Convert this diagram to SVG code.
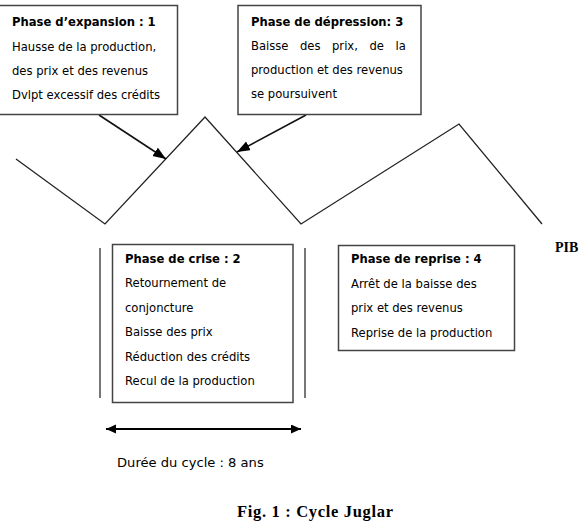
<svg xmlns="http://www.w3.org/2000/svg" width="588" height="522" viewBox="0 0 588 522">
<style>
.box{fill:#fff;stroke:#444;stroke-width:1.5}
.t{font-family:"DejaVu Sans",Verdana,sans-serif;font-size:11.6px;fill:#000}
.b{font-weight:bold}
.s{font-family:"Liberation Serif","Times New Roman",serif;font-weight:bold;fill:#000}
.ln{fill:none;stroke:#222;stroke-width:1.3}
.ar{stroke:#111;stroke-width:1.6;fill:none}
.vl{stroke:#555;stroke-width:1.6}
</style>
<defs>
<marker id="ah" markerUnits="userSpaceOnUse" markerWidth="14" markerHeight="12" refX="13" refY="5" orient="auto">
<path d="M0,0 L13,5 L0,10 z" fill="#000"/>
</marker>
<marker id="dh" markerUnits="userSpaceOnUse" markerWidth="12" markerHeight="10" refX="10" refY="4.5" orient="auto-start-reverse">
<path d="M0,0 L10,4.5 L0,9 z" fill="#000"/>
</marker>
</defs>
<g id="connectors">
<polyline class="ln" points="16,159 105,224 205,117 301,224 459,124 542,224"/>
<line class="ar" x1="99" y1="115" x2="166" y2="159" marker-end="url(#ah)"/>
<line class="ar" x1="306" y1="115" x2="237" y2="152" marker-end="url(#ah)"/>
<line class="vl" x1="100" y1="248" x2="100" y2="398"/>
<line class="vl" x1="305" y1="248" x2="305" y2="398"/>
<line x1="106" y1="429" x2="301" y2="429" stroke="#000" stroke-width="2" marker-start="url(#dh)" marker-end="url(#dh)"/>
</g>
<g id="phase1">
<rect class="box" x="-2" y="5.5" width="179.5" height="109"/>
<text class="t b" x="12" y="26">Phase d’expansion : 1</text>
<text class="t" x="12" y="51">Hausse de la production,</text>
<text class="t" x="12" y="75">des prix et des revenus</text>
<text class="t" x="12" y="99">Dvlpt excessif des crédits</text>
</g>
<g id="phase3">
<rect class="box" x="238" y="5.5" width="183" height="109"/>
<text class="t b" x="251" y="26">Phase de dépression: 3</text>
<text class="t" y="50"><tspan x="251">Baisse</tspan><tspan x="300">des</tspan><tspan x="332">prix,</tspan><tspan x="369.5">de</tspan><tspan x="395.6">la</tspan></text>
<text class="t" x="251" y="74">production et des revenus</text>
<text class="t" x="251" y="98">se poursuivent</text>
</g>
<g id="phase2">
<rect class="box" x="112.5" y="244.5" width="180.5" height="158"/>
<text class="t b" x="125" y="263">Phase de crise : 2</text>
<text class="t" x="125" y="287">Retournement de</text>
<text class="t" x="125" y="312">conjoncture</text>
<text class="t" x="125" y="336">Baisse des prix</text>
<text class="t" x="125" y="361">Réduction des crédits</text>
<text class="t" x="125" y="385">Recul de la production</text>
</g>
<g id="phase4">
<rect class="box" x="338.5" y="245.5" width="176" height="105"/>
<text class="t b" x="351" y="263">Phase de reprise : 4</text>
<text class="t" x="351" y="288">Arrêt de la baisse des</text>
<text class="t" x="351" y="312">prix et des revenus</text>
<text class="t" x="351" y="337">Reprise de la production</text>
</g>
<g id="labels">
<text class="s" x="555" y="252" font-size="14">PIB</text>
<text class="t" x="117" y="467" style="font-size:13.1px">Durée du cycle : 8 ans</text>
<text class="s" x="237" y="517" font-size="16.5" textLength="156" lengthAdjust="spacing">Fig. 1 : Cycle Juglar</text>
</g>
</svg>
